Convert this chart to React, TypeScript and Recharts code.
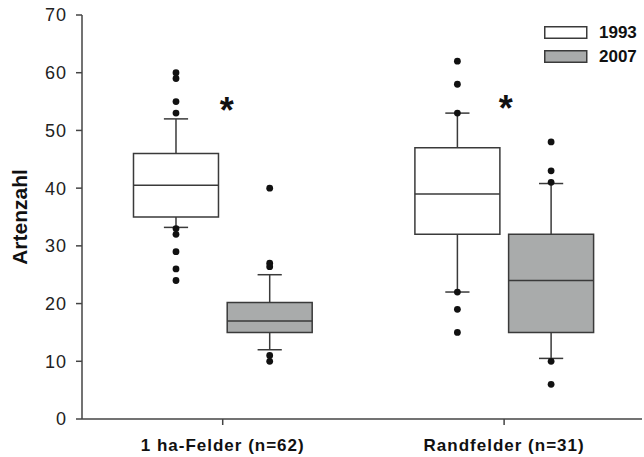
import React from "react"
import {
  ComposedChart,
  XAxis,
  YAxis,
  Scatter,
  ReferenceArea,
  ReferenceLine,
  Legend,
} from "recharts"

// groups on the x axis
const categories = ["1 ha-Felder (n=62)", "Randfelder (n=31)"]
const years = ["1993", "2007"]

// 1993 box statistics (per category)
const q1_1993 = [35, 32]
const median_1993 = [40.5, 39]
const q3_1993 = [46, 47]
const whiskerLow_1993 = [33.2, 22]
const whiskerHigh_1993 = [52, 53]
const outliers_1993 = [
  [60, 59, 55, 53, 33, 32, 29, 26, 24],
  [62, 58, 53, 22, 19, 15],
]

// 2007 box statistics (per category)
const q1_2007 = [15, 15]
const median_2007 = [17, 24]
const q3_2007 = [20.2, 32]
const whiskerLow_2007 = [12, 10.5]
const whiskerHigh_2007 = [25, 40.8]
const outliers_2007 = [
  [40, 27, 26.4, 11, 10],
  [48, 43, 41, 10, 6],
]

// significance markers
const signifY = [55, 55.3]

const yTicks = [0, 10, 20, 30, 40, 50, 60, 70]

const FONT = "'Liberation Sans', Arial, sans-serif"
const EDGE = "#3a3a3a"
const FILLS = ["#ffffff", "#a9abab"]
const OFFSETS = [-0.166, 0.167]
const HALF_BOX = 0.151
const HALF_CAP = 0.043

const series = [
  { q1: q1_1993, med: median_1993, q3: q3_1993, lo: whiskerLow_1993, hi: whiskerHigh_1993, out: outliers_1993 },
  { q1: q1_2007, med: median_2007, q3: q3_2007, lo: whiskerLow_2007, hi: whiskerHigh_2007, out: outliers_2007 },
]

const outlierPoints = series.flatMap((s, si) =>
  categories.flatMap((_, ci) => s.out[ci].map((v) => ({ x: ci + 1 + OFFSETS[si], y: v })))
)

const signifPoints = signifY.map((v, i) => ({ x: i + 1 + (i === 0 ? 0.014 : 0.006), y: v }))

const Dot = (p: any) => <circle cx={p.cx} cy={p.cy} r={3.4} fill="#111" />

const Star = (p: any) => (
  <text x={p.cx} y={p.cy + 21} textAnchor="middle" fontSize={36} fontWeight="bold" fontFamily={FONT} fill="#111">
    *
  </text>
)

const LegendBox = () => (
  <svg width={99} height={42} style={{ display: "block", overflow: "visible" }}>
    {years.map((y, i) => (
      <g key={y}>
        <rect x={0.75} y={0.75 + i * 24} width={42} height={11.5} fill={FILLS[i]} stroke={EDGE} strokeWidth={1.5} />
        <text x={55} y={12.4 + i * 24} fontSize={17} fontWeight="bold" fontFamily={FONT} fill="#111">
          {y}
        </text>
      </g>
    ))}
  </svg>
)

const YLabel = (props: any) => {
  const vb = props.viewBox
  const cy = vb.y + vb.height / 2
  return (
    <text
      x={27}
      y={cy}
      transform={`rotate(-90, 27, ${cy})`}
      textAnchor="middle"
      fontSize={21}
      fontWeight="bold"
      fontFamily={FONT}
      fill="#111"
    >
      Artenzahl
    </text>
  )
}

export default function App() {
  const boxes: React.ReactNode[] = []
  series.forEach((s, si) => {
    categories.forEach((_, ci) => {
      const cx = ci + 1 + OFFSETS[si]
      const key = `${si}-${ci}`
      boxes.push(
        <ReferenceLine key={`wl${key}`} segment={[{ x: cx, y: s.lo[ci] }, { x: cx, y: s.q1[ci] }]} stroke={EDGE} strokeWidth={1.5} />,
        <ReferenceLine key={`wh${key}`} segment={[{ x: cx, y: s.q3[ci] }, { x: cx, y: s.hi[ci] }]} stroke={EDGE} strokeWidth={1.5} />,
        <ReferenceLine key={`cl${key}`} segment={[{ x: cx - HALF_CAP, y: s.lo[ci] }, { x: cx + HALF_CAP, y: s.lo[ci] }]} stroke={EDGE} strokeWidth={1.5} />,
        <ReferenceLine key={`ch${key}`} segment={[{ x: cx - HALF_CAP, y: s.hi[ci] }, { x: cx + HALF_CAP, y: s.hi[ci] }]} stroke={EDGE} strokeWidth={1.5} />,
        <ReferenceArea
          key={`b${key}`}
          x1={cx - HALF_BOX}
          x2={cx + HALF_BOX}
          y1={s.q1[ci]}
          y2={s.q3[ci]}
          fill={FILLS[si]}
          fillOpacity={1}
          stroke={EDGE}
          strokeWidth={1.5}
        />,
        <ReferenceLine key={`m${key}`} segment={[{ x: cx - HALF_BOX, y: s.med[ci] }, { x: cx + HALF_BOX, y: s.med[ci] }]} stroke={EDGE} strokeWidth={1.5} />
      )
    })
  })

  return (
    <div style={{ position: "absolute", left: 0, top: 0, width: 644, height: 457, background: "#fff" }}>
      <ComposedChart width={644} height={457} margin={{ top: 15, right: 2, bottom: 0, left: 0 }}>
        <XAxis
          dataKey="x"
          type="number"
          domain={[0.5, 2.49]}
          ticks={[1, 2]}
          tickFormatter={(v) => categories[v - 1]}
          height={38}
          stroke="#444"
          strokeWidth={1.5}
          tickSize={6}
          tickMargin={14}
          tick={{ fontSize: 17, fontWeight: "bold", fontFamily: FONT, fill: "#111", letterSpacing: 1 }}
          allowDataOverflow
        />
        <XAxis xAxisId="top" orientation="top" type="number" domain={[0.5, 2.49]} height={0} tick={false} tickLine={false} stroke="#555" strokeWidth={1.5} />
        <YAxis
          dataKey="y"
          type="number"
          domain={[0, 70]}
          ticks={yTicks}
          width={82}
          stroke="#444"
          strokeWidth={1.5}
          tickSize={6}
          tickMargin={9}
          tick={{ fontSize: 18, fontFamily: FONT, fill: "#222", letterSpacing: 1 }}
          label={<YLabel />}
          allowDataOverflow
        />
        <YAxis yAxisId="right" orientation="right" type="number" domain={[0, 70]} width={0} tick={false} tickLine={false} stroke="#aaa" />
        {boxes}
        <Scatter data={outlierPoints} shape={Dot} isAnimationActive={false} legendType="none" />
        <Scatter data={signifPoints} shape={Star} isAnimationActive={false} legendType="none" />
        <Legend
          layout="horizontal"
          verticalAlign="middle"
          align="center"
          content={<LegendBox />}
          wrapperStyle={{ position: "absolute", left: 544, top: 26, width: 99, height: 42 }}
        />
      </ComposedChart>
    </div>
  )
}
